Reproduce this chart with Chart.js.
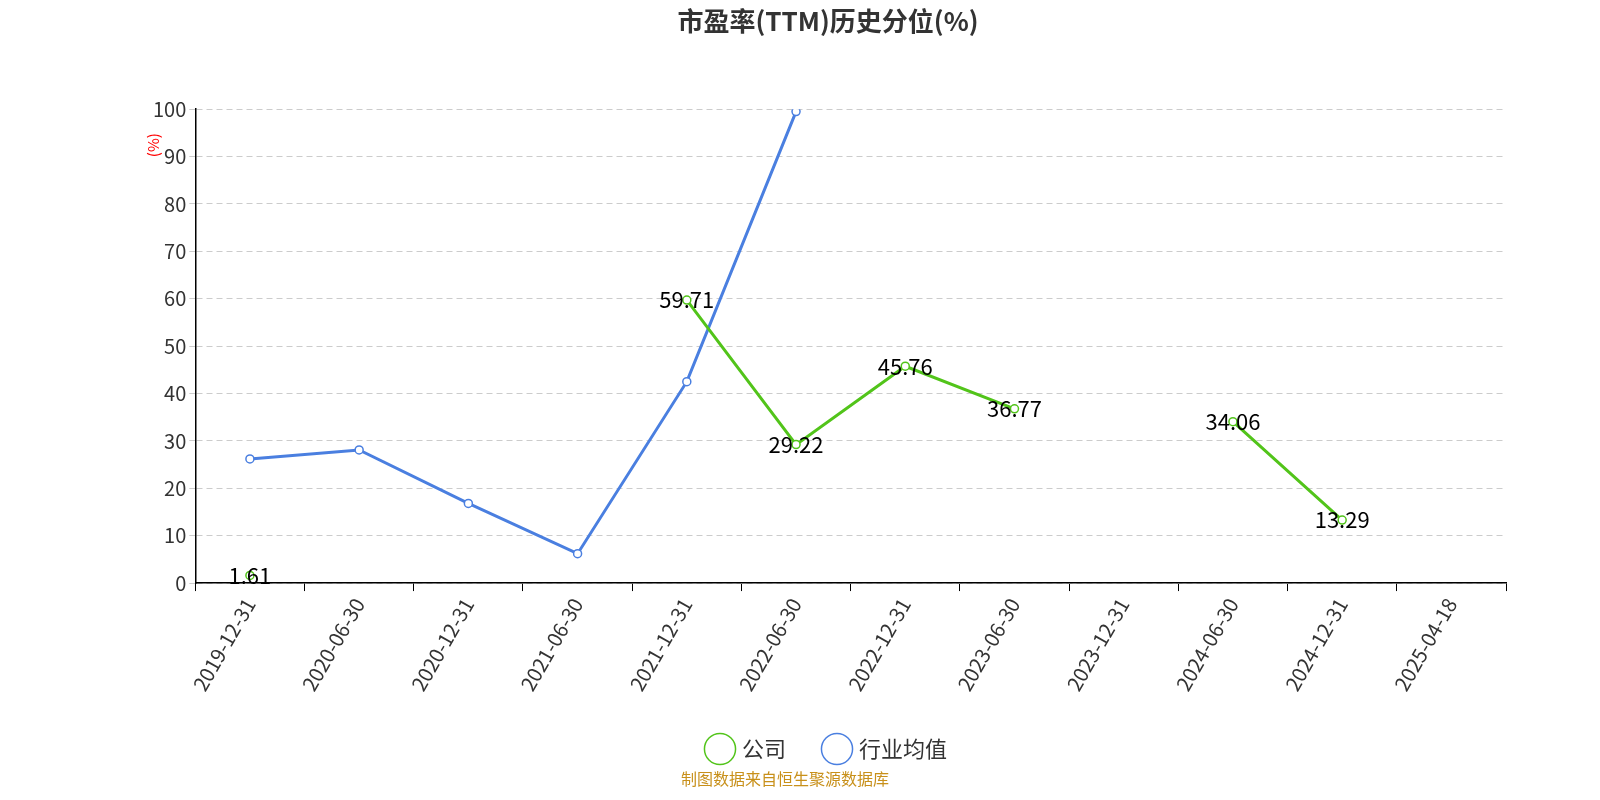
<!DOCTYPE html>
<html lang="zh">
  <head>
    <meta charset="utf-8" />
    <title>市盈率(TTM)历史分位(%)</title>
    <style>
      * { margin: 0; padding: 0; }
      body { background: #fff; }
    </style>
  </head>
  <body>
    <canvas id="myChart" width="1600" height="800"></canvas>
    <script src="https://cdn.jsdelivr.net/npm/chart.js"></script>
    <script>
      const dates = ["2019-12-31", "2020-06-30", "2020-12-31", "2021-06-30", "2021-12-31", "2022-06-30",
        "2022-12-31", "2023-06-30", "2023-12-31", "2024-06-30", "2024-12-31", "2025-04-18"];
      const companyValues = [1.61, null, null, null, 59.71, 29.22, 45.76, 36.77, null, 34.06, 13.29, null];
      const industryValues = [26.2, 28.1, 16.8, 6.2, 42.5, 99.5, null, null, null, null, null, null];
      const font = "'Noto Sans CJK SC', 'Noto Sans', sans-serif";

      // labels on the company points + unit text + source line
      const extras = {
        id: "extras",
        afterDatasetsDraw(chart) {
          const { ctx, chartArea } = chart;
          ctx.save();
          const meta = chart.getDatasetMeta(0);
          ctx.font = "22px " + font;
          ctx.fillStyle = "#000";
          ctx.textAlign = "center";
          ctx.textBaseline = "middle";
          meta.data.forEach((pt, i) => {
            if (companyValues[i] === null) return;
            ctx.fillText(companyValues[i].toFixed(2), pt.x, pt.y);
          });
          ctx.fillStyle = "red";
          ctx.font = "15px " + font;
          ctx.translate(153, chartArea.top + 36);
          ctx.rotate(-Math.PI / 2);
          ctx.fillText("(%)", 0, 0);
          ctx.restore();
          ctx.save();
          ctx.font = "16px " + font;
          ctx.fillStyle = "#c8901a";
          ctx.textAlign = "center";
          ctx.fillText("制图数据来自恒生聚源数据库", 785, 779);
          ctx.restore();
        },
      };

      const myChart = new Chart(document.getElementById("myChart"), {
        type: "line",
        data: {
          labels: dates,
          datasets: [
            {
              label: "公司",
              data: companyValues,
              borderColor: "#52c41a",
              backgroundColor: "#fff",
              borderWidth: 3,
              pointRadius: 4,
              pointBorderWidth: 1.5,
              spanGaps: false,
            },
            {
              label: "行业均值",
              data: industryValues,
              borderColor: "#4a7fe0",
              backgroundColor: "#fff",
              borderWidth: 3,
              pointRadius: 4,
              pointBorderWidth: 1.5,
            },
          ],
        },
        options: {
          responsive: false,
          animation: false,
          layout: { padding: { left: 150, right: 94, top: 0, bottom: 30 } },
          plugins: {
            title: {
              display: true,
              text: "市盈率(TTM)历史分位(%)",
              font: { size: 26, weight: "bold", family: font },
              color: "#333",
              padding: { top: 6, bottom: 72 },
            },
            legend: {
              position: "bottom",
              labels: {
                usePointStyle: true,
                pointStyle: "circle",
                font: { size: 22, family: font },
                color: "#333",
                padding: 40,
              },
            },
            tooltip: { enabled: false },
          },
          scales: {
            x: {
              offset: true,
              grid: { offset: true, drawOnChartArea: false, tickLength: 8, color: "#000" },
              border: { color: "#000", width: 1.5 },
              ticks: { maxRotation: 60, minRotation: 60, font: { size: 20, family: font }, color: "#333", autoSkip: false },
            },
            y: {
              min: 0,
              max: 100,
              ticks: { stepSize: 10, font: { size: 20, family: font }, color: "#333" },
              grid: { color: "#ccc", tickLength: 6, drawTicks: true },
              border: { color: "#000", width: 1.5, dash: [6, 4] },
            },
          },
        },
        plugins: [extras],
      });
    </script>
  </body>
</html>
